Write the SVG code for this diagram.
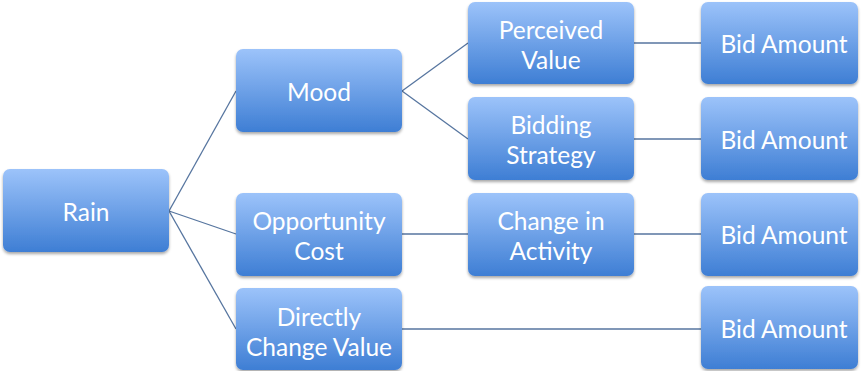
<svg xmlns="http://www.w3.org/2000/svg" width="866" height="371" viewBox="0 0 866 371">
  <defs>
    <linearGradient id="fill" x1="0" y1="0" x2="0" y2="1">
      <stop offset="0" stop-color="#9cc3fa"/>
      <stop offset="1" stop-color="#3e7ed4"/>
    </linearGradient>
    <filter id="shadow" x="-10%" y="-10%" width="120%" height="130%">
      <feGaussianBlur in="SourceAlpha" stdDeviation="1.5"/>
      <feOffset dx="0" dy="2" result="b"/>
      <feComponentTransfer><feFuncA type="linear" slope="0.35"/></feComponentTransfer>
      <feMerge><feMergeNode/><feMergeNode in="SourceGraphic"/></feMerge>
    </filter>
  </defs>
  <style>
    .box { fill: url(#fill); filter: url(#shadow); }
    .lbl { fill: #ffffff; font-family: Lato, "Liberation Sans", sans-serif; font-size: 24.5px; text-anchor: middle; }
    .edge { stroke: #56759f; stroke-width: 1.3; fill: none; }
  </style>
  <rect width="866" height="371" fill="#ffffff"/>

  <g id="connectors">
    <line class="edge" x1="169" y1="211" x2="236" y2="91"/>
    <line class="edge" x1="169" y1="211" x2="236" y2="234"/>
    <line class="edge" x1="169" y1="211" x2="236" y2="329"/>
    <line class="edge" x1="402" y1="91" x2="468" y2="43"/>
    <line class="edge" x1="402" y1="91" x2="468" y2="139"/>
    <line class="edge" x1="634" y1="43" x2="701" y2="43"/>
    <line class="edge" x1="634" y1="139" x2="701" y2="139"/>
    <line class="edge" x1="402" y1="234" x2="468" y2="234"/>
    <line class="edge" x1="634" y1="234" x2="701" y2="234"/>
    <line class="edge" x1="402" y1="329" x2="701" y2="329"/>
  </g>

  <g id="rain">
    <rect class="box" x="3" y="169" width="166" height="83" rx="7"/>
    <text class="lbl" x="86" y="221">Rain</text>
  </g>
  <g id="mood">
    <rect class="box" x="236" y="49" width="166" height="83" rx="7"/>
    <text class="lbl" x="319" y="101">Mood</text>
  </g>
  <g id="opportunity-cost">
    <rect class="box" x="236" y="193" width="166" height="83" rx="7"/>
    <text class="lbl" x="319" y="230">Opportunity</text>
    <text class="lbl" x="319" y="259.5">Cost</text>
  </g>
  <g id="directly-change-value">
    <rect class="box" x="236" y="288" width="166" height="82" rx="7"/>
    <text class="lbl" x="319" y="326">Directly</text>
    <text class="lbl" x="319" y="355.5">Change Value</text>
  </g>
  <g id="perceived-value">
    <rect class="box" x="468" y="2" width="166" height="82" rx="7"/>
    <text class="lbl" x="551" y="39">Perceived</text>
    <text class="lbl" x="551" y="68.5">Value</text>
  </g>
  <g id="bidding-strategy">
    <rect class="box" x="468" y="97" width="166" height="83" rx="7"/>
    <text class="lbl" x="551" y="134">Bidding</text>
    <text class="lbl" x="551" y="163.5">Strategy</text>
  </g>
  <g id="change-in-activity">
    <rect class="box" x="468" y="193" width="166" height="83" rx="7"/>
    <text class="lbl" x="551" y="230">Change in</text>
    <text class="lbl" x="551" y="259.5">Activity</text>
  </g>
  <g id="bid-amount-1">
    <rect class="box" x="701" y="2" width="157" height="82" rx="7"/>
    <text class="lbl" x="784" y="53">Bid Amount</text>
  </g>
  <g id="bid-amount-2">
    <rect class="box" x="701" y="97" width="157" height="83" rx="7"/>
    <text class="lbl" x="784" y="149">Bid Amount</text>
  </g>
  <g id="bid-amount-3">
    <rect class="box" x="701" y="193" width="157" height="83" rx="7"/>
    <text class="lbl" x="784" y="244">Bid Amount</text>
  </g>
  <g id="bid-amount-4">
    <rect class="box" x="701" y="286" width="157" height="83" rx="7"/>
    <text class="lbl" x="784" y="338">Bid Amount</text>
  </g>
</svg>
